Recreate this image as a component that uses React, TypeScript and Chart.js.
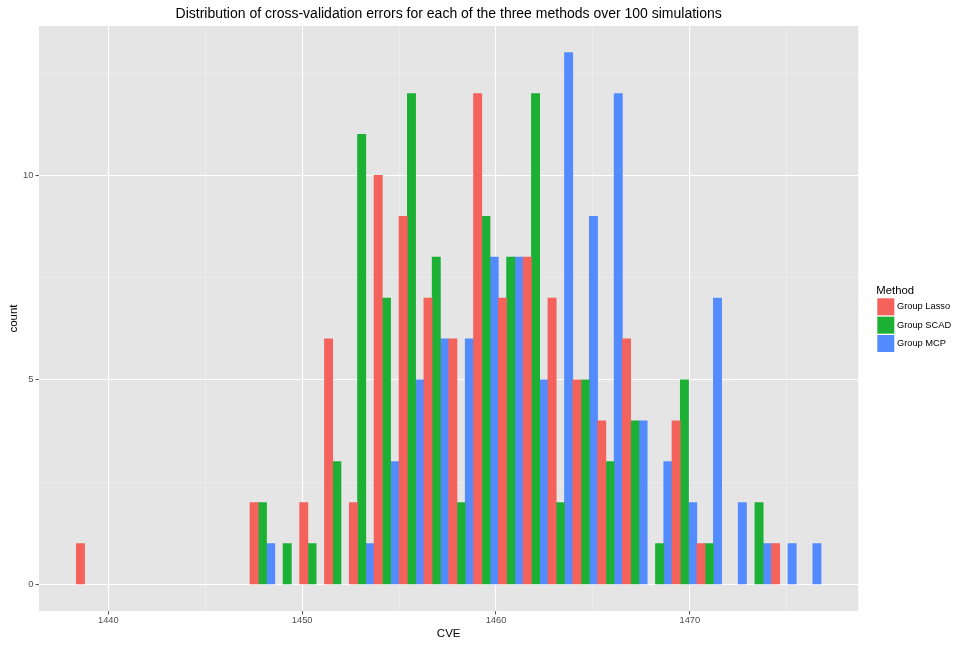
import React, { useEffect, useRef } from 'react';
import { Chart, registerables } from 'chart.js';

Chart.register(...registerables);

const FONT = "'Liberation Sans', Arial, Helvetica, sans-serif";

const chartTitle = 'Distribution of cross-validation errors for each of the three methods over 100 simulations';
const xAxisTitle = 'CVE';
const yAxisTitle = 'count';
const legendTitle = 'Method';

// histogram bin centres (CVE), 30 bins
const binCenters = [
  1438.99, 1440.27, 1441.55, 1442.83, 1444.11, 1445.39, 1446.67, 1447.95, 1449.23, 1450.51,
  1451.79, 1453.07, 1454.35, 1455.64, 1456.92, 1458.20, 1459.48, 1460.76, 1462.04, 1463.32,
  1464.60, 1465.88, 1467.16, 1468.44, 1469.72, 1471.00, 1472.28, 1473.57, 1474.85, 1476.13,
];

const seriesNames = ['Group Lasso', 'Group SCAD', 'Group MCP'];
const groupLasso = [1, 0, 0, 0, 0, 0, 0, 2, 0, 2, 6, 2, 10, 9, 7, 6, 12, 7, 8, 7, 5, 4, 6, 0, 4, 1, 0, 0, 1, 0];
const groupSCAD = [0, 0, 0, 0, 0, 0, 0, 2, 1, 1, 3, 11, 7, 12, 8, 2, 9, 8, 12, 2, 5, 3, 4, 1, 5, 1, 0, 2, 0, 0];
const groupMCP = [0, 0, 0, 0, 0, 0, 0, 1, 0, 0, 0, 1, 3, 5, 6, 6, 8, 8, 5, 13, 9, 12, 4, 3, 2, 7, 2, 1, 1, 1];
const seriesColors = ['#F3625B', '#1CB134', '#538AFE'];

const xMajorTicks = [1440, 1450, 1460, 1470];
const xMinorTicks = [1445, 1455, 1465, 1475];
const yMajorTicks = [0, 5, 10];
const yMinorTicks = [2.5, 7.5, 12.5];
const xRange = [1436.425, 1478.69];
const yRange = [-0.65, 13.65];

const PANEL_BG = '#E5E5E5';

const panelPlugin = {
  id: 'panelBg',
  beforeDraw(chart: any) {
    const { ctx, chartArea } = chart;
    ctx.save();
    ctx.fillStyle = PANEL_BG;
    ctx.fillRect(chartArea.left, chartArea.top, chartArea.right - chartArea.left, chartArea.bottom - chartArea.top);
    ctx.restore();
  },
};

const legendPlugin = {
  id: 'ggLegend',
  afterDraw(chart: any) {
    const { ctx, chartArea } = chart;
    const midY = (chartArea.top + chartArea.bottom) / 2;
    const x0 = chartArea.right + 19;
    ctx.save();
    ctx.textAlign = 'left';
    ctx.textBaseline = 'middle';
    ctx.fillStyle = '#000';
    ctx.font = `11.3px ${FONT}`;
    ctx.fillText(legendTitle, x0 - 1, midY - 27.8);
    const keySize = 17;
    const step = 18.35;
    const top0 = midY - 20.2;
    ctx.font = `9.3px ${FONT}`;
    seriesNames.forEach((name, i) => {
      const ky = top0 + i * step;
      ctx.fillStyle = seriesColors[i];
      ctx.fillRect(x0, ky, keySize, keySize);
      ctx.fillStyle = '#000';
      ctx.fillText(name, x0 + keySize + 2.6, ky + keySize / 2);
    });
    ctx.restore();
  },
};

export default function App() {
  const canvasRef = useRef<HTMLCanvasElement | null>(null);

  useEffect(() => {
    if (!canvasRef.current) return;
    const seriesValues = [groupLasso, groupSCAD, groupMCP];
    const isMajorX = (v: number) => xMajorTicks.includes(v);
    const isMajorY = (v: number) => yMajorTicks.includes(v);
    const chart = new Chart(canvasRef.current, {
      type: 'bar',
      data: {
        datasets: seriesNames.map((name, si) => ({
          label: name,
          // empty bins draw nothing (as in the histogram)
          data: binCenters.map((x, i) => ({ x, y: seriesValues[si][i] === 0 ? null : seriesValues[si][i] })),
          backgroundColor: seriesColors[si],
          borderWidth: 0,
          categoryPercentage: 1,
          barPercentage: 1,
        })),
      },
      options: {
        animation: false,
        responsive: false,
        maintainAspectRatio: false,
        layout: { padding: { left: 0, top: 0, bottom: 0, right: 96.7 } },
        plugins: {
          legend: { display: false },
          tooltip: { enabled: false },
          title: {
            display: true,
            text: chartTitle,
            fullSize: false,
            color: '#000',
            font: { family: FONT, size: 14, weight: 'normal' },
            padding: { top: 5.6, bottom: 3.6 },
          },
        },
        scales: {
          x: {
            type: 'linear',
            min: xRange[0],
            max: xRange[1],
            offset: false,
            afterBuildTicks: (s: any) => {
              s.ticks = [...xMajorTicks, ...xMinorTicks].sort((a, b) => a - b).map((v) => ({ value: v }));
            },
            afterFit: (s: any) => {
              s.height = 35;
            },
            ticks: {
              autoSkip: false,
              maxRotation: 0,
              padding: 0.3,
              color: '#4D4D4D',
              font: { family: FONT, size: 9.3 },
              callback: (v: any) => (isMajorX(Number(v)) ? String(v) : ''),
            },
            grid: {
              offset: false,
              drawOnChartArea: true,
              tickLength: 3.5,
              color: (c: any) => (isMajorX(c.tick?.value) ? '#FFFFFF' : '#F2F2F2'),
              lineWidth: (c: any) => (isMajorX(c.tick?.value) ? 1.1 : 0.55),
              tickColor: (c: any) => (isMajorX(c.tick?.value) ? '#555555' : 'rgba(0,0,0,0)'),
              tickWidth: 1,
            },
            border: { display: false },
            title: {
              display: true,
              text: xAxisTitle,
              color: '#000',
              font: { family: FONT, size: 11.5 },
              padding: { top: 0, bottom: 5.6 },
            },
          },
          y: {
            type: 'linear',
            min: yRange[0],
            max: yRange[1],
            afterBuildTicks: (s: any) => {
              s.ticks = [...yMajorTicks, ...yMinorTicks].sort((a, b) => a - b).map((v) => ({ value: v }));
            },
            afterFit: (s: any) => {
              s.width = 39;
            },
            ticks: {
              autoSkip: false,
              padding: 2.2,
              color: '#4D4D4D',
              font: { family: FONT, size: 9.3 },
              callback: (v: any) => (isMajorY(Number(v)) ? String(v) : ''),
            },
            grid: {
              drawOnChartArea: true,
              tickLength: 3.5,
              color: (c: any) => (isMajorY(c.tick?.value) ? '#FFFFFF' : '#F2F2F2'),
              lineWidth: (c: any) => (isMajorY(c.tick?.value) ? 1.1 : 0.55),
              tickColor: (c: any) => (isMajorY(c.tick?.value) ? '#555555' : 'rgba(0,0,0,0)'),
              tickWidth: 1,
            },
            border: { display: false },
            title: {
              display: true,
              text: yAxisTitle,
              color: '#000',
              font: { family: FONT, size: 11.5 },
              padding: { top: 6.6, bottom: 0 },
            },
          },
        },
      } as any,
      plugins: [panelPlugin, legendPlugin],
    });
    return () => chart.destroy();
  }, []);

  return (
    <div style={{ position: 'absolute', left: 0, top: 0, width: 955, height: 646, background: '#fff' }}>
      <canvas ref={canvasRef} width={955} height={646} style={{ display: 'block', width: 955, height: 646 }} />
    </div>
  );
}
